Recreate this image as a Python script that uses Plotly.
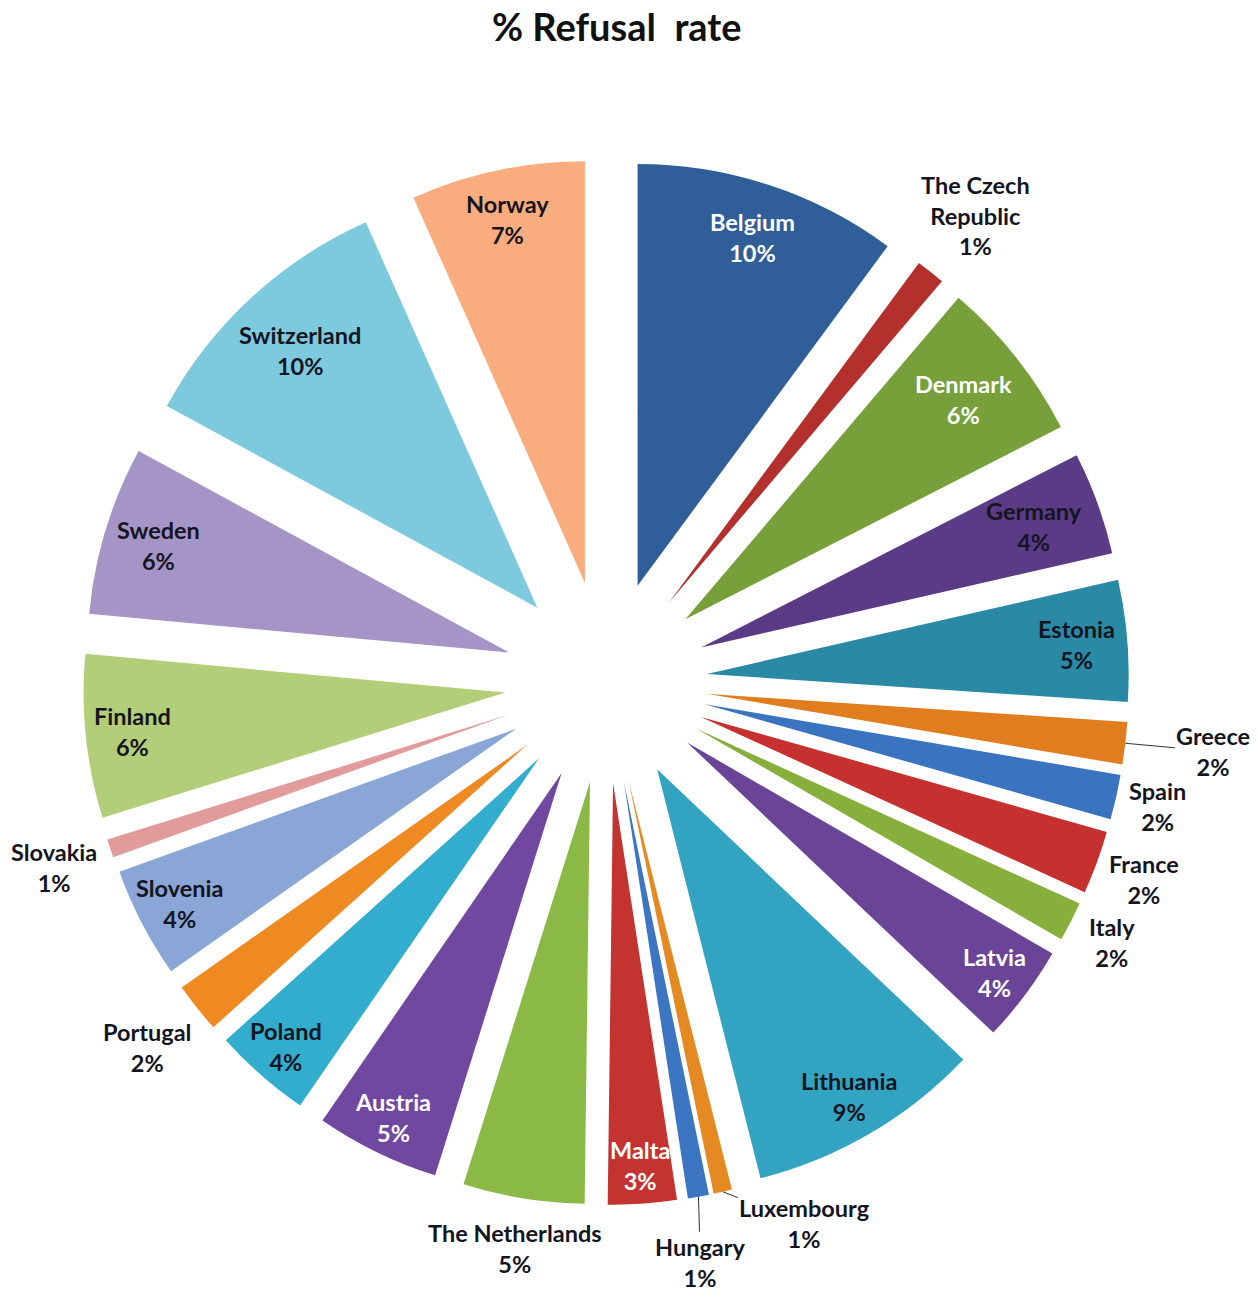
import math
import plotly.graph_objects as go

countries = ["Belgium", "The Czech Republic", "Denmark", "Germany", "Estonia", "Greece",
             "Spain", "France", "Italy", "Latvia", "Lithuania", "Luxembourg", "Hungary",
             "Malta", "The Netherlands", "Austria", "Poland", "Portugal", "Slovenia",
             "Slovakia", "Finland", "Sweden", "Switzerland", "Norway"]
refusal_rate = [10.0, 1.1, 6.2, 3.9, 4.6, 1.6, 1.7, 2.4, 1.5, 3.7, 8.9, 0.7, 0.8,
                2.6, 4.6, 4.7, 3.7, 1.9, 4.2, 0.7, 6.2, 6.4, 10.3, 6.6]

colors = ["#2F5E98", "#B3302D", "#77A03A", "#5B3B86", "#2A8AA6", "#E07E1F",
          "#3A73C0", "#C6302E", "#86B03B", "#6A4597", "#33A3C2", "#E58A22", "#3C76C2",
          "#C33431", "#8AB946", "#7048A0", "#33ADCD", "#EF8A22", "#8AA6D6",
          "#E29B9B", "#B3CE79", "#A595C6", "#7DC9DE", "#F9AD7E"]

# label styling: radius (in pie radii from centre), font colour
label_radius = [1.11, 1.41, 1.08, 1.08, 1.12, None, 1.34, 1.36, 1.35, 1.15, 1.14, None, None,
                1.15, 1.36, 1.15, 1.15, 1.39, 1.14, 1.38, 1.13, 1.11, 1.07, 1.12]
white_text = {"Belgium", "Denmark", "Latvia", "Malta", "Austria"}
leader = {"Greece": (88, 8), "Luxembourg": (82, 32), "Hungary": (2, 66)}

W, H = 1250, 1282
ML, MR, MT, MB = 75, 129, 151, 85
PULL = 0.24
pw, ph = W - ML - MR, H - MT - MB
R = min(pw, ph) / (2 + 2 * PULL)
cx, cy = ML + pw / 2, MT + ph / 2
FS = 23.5

fig = go.Figure(go.Pie(
    labels=countries, values=refusal_rate, sort=False, direction="clockwise",
    rotation=0, pull=[PULL] * len(countries), textinfo="none", hoverinfo="label+percent",
    marker=dict(colors=colors, line=dict(width=0)), showlegend=False,
))

def to_paper(px, py):
    return (px - ML) / pw, 1 - (py - MT) / ph

total = sum(refusal_rate)
cum = 0.0
annotations = []
for name, v, rad in zip(countries, refusal_rate, label_radius):
    mid = (cum + v / 2) / total * 2 * math.pi
    cum += v
    pct = round(v / total * 100)
    disp = "The Czech<br>Republic" if name == "The Czech Republic" else name
    text = f"<b>{disp}</b><br><b>{pct}%</b>"
    col = "white" if name in white_text else "#15151f"
    font = dict(size=FS, color=col, family="Lato")
    if name in leader:
        dist = R * (1 + PULL)
        px, py = cx + dist * math.sin(mid), cy - dist * math.cos(mid)
        x, y = to_paper(px, py)
        ax, ay = leader[name]
        annotations.append(dict(x=x, y=y, xref="paper", yref="paper", text=text,
                                showarrow=True, arrowhead=0, arrowwidth=1, arrowcolor="#333",
                                ax=ax, ay=ay, font=font))
    else:
        dist = R * rad
        px, py = cx + dist * math.sin(mid), cy - dist * math.cos(mid)
        x, y = to_paper(px, py)
        annotations.append(dict(x=x, y=y, xref="paper", yref="paper", text=text,
                                xanchor="center", yanchor="middle",
                                showarrow=False, font=font))

fig.update_layout(
    width=W, height=H, margin=dict(l=ML, r=MR, t=MT, b=MB),
    paper_bgcolor="white", plot_bgcolor="white",
    title=dict(text="<b>% Refusal\u00a0\u00a0rate</b>", x=0.487, xref="container",
               xanchor="center", y=0.985, yref="container", yanchor="middle",
               font=dict(size=38, family="Lato", color="#111")),
    annotations=annotations,
)
fig.write_html("out.html")
